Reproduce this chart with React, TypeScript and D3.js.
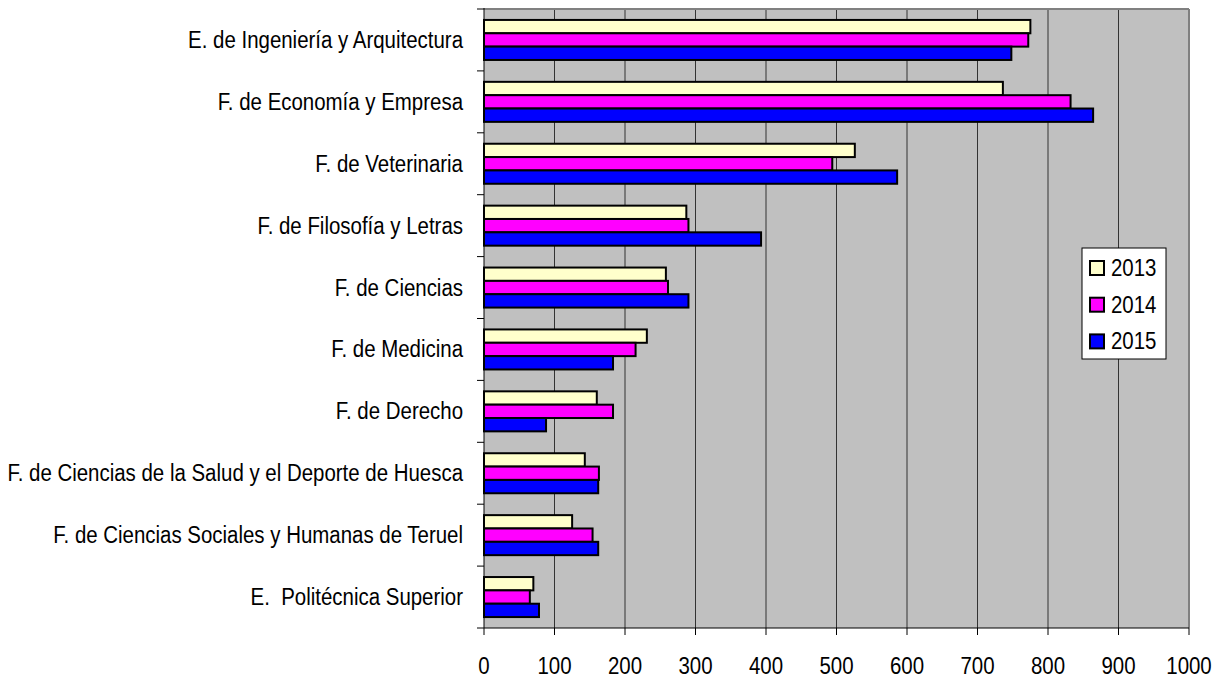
import React from "react";
import * as d3 from "d3";

const categories = [
  "E. de Ingeniería y Arquitectura",
  "F. de Economía y Empresa",
  "F. de Veterinaria",
  "F. de Filosofía y Letras",
  "F. de Ciencias",
  "F. de Medicina",
  "F. de Derecho",
  "F. de Ciencias de la Salud y el Deporte de Huesca",
  "F. de Ciencias Sociales y Humanas de Teruel",
  "E.  Politécnica Superior",
];
const seriesNames = ["2013", "2014", "2015"];
const values2013 = [775, 736, 526, 287, 258, 231, 160, 143, 125, 70];
const values2014 = [772, 832, 494, 290, 261, 215, 183, 163, 154, 65];
const values2015 = [748, 864, 586, 393, 290, 183, 88, 162, 162, 78];
const seriesColors = ["#FFFFCC", "#FF00FF", "#0000FF"];
const xTicks = [0, 100, 200, 300, 400, 500, 600, 700, 800, 900, 1000];

const W = 1220;
const H = 678;
const PL = 484;
const PR = 1189;
const PT = 9;
const PB = 628;
const FONT = "Arial, 'Liberation Sans', sans-serif";
const FS = 23.5;
const SX = 0.87;

export default function App() {
  const allValues = [values2013, values2014, values2015];
  const x = d3.scaleLinear().domain([0, 1000]).range([PL, PR]);
  const y0 = d3.scaleBand<string>().domain(categories).range([PT, PB]).padding(0);
  const y1 = d3
    .scaleBand<string>()
    .domain(seriesNames)
    .range([0, y0.bandwidth()])
    .paddingInner(0)
    .paddingOuter(0.82);

  const boundaries = d3.range(categories.length + 1).map((i) => PT + i * y0.step());

  return (
    <div style={{ position: "absolute", left: 0, top: 0 }}>
      <svg width={W} height={H} style={{ display: "block", background: "#fff" }}>
        <rect x={PL} y={PT} width={PR - PL} height={PB - PT} fill="#C0C0C0" />
        {xTicks.slice(1, -1).map((t) => (
          <line key={"g" + t} x1={x(t)} x2={x(t)} y1={PT} y2={PB} stroke="#333" strokeWidth={1} />
        ))}
        <line x1={PL} x2={PR} y1={PT} y2={PT} stroke="#808080" strokeWidth={2} />
        <line x1={PR} x2={PR} y1={PT} y2={PB} stroke="#808080" strokeWidth={2} />
        {categories.map((c, ci) => (
          <g key={c}>
            {seriesNames.map((s, si) => {
              const v = allValues[si][ci];
              const yy = (y0(c) as number) + (y1(s) as number);
              return (
                <rect
                  key={s}
                  x={x(0)}
                  y={yy}
                  width={x(v) - x(0)}
                  height={y1.bandwidth()}
                  fill={seriesColors[si]}
                  stroke="#000"
                  strokeWidth={2}
                />
              );
            })}
          </g>
        ))}
        <line x1={PL} x2={PL} y1={PT - 1} y2={PB} stroke="#000" strokeWidth={1} />
        <line x1={PL} x2={PR} y1={PB} y2={PB} stroke="#000" strokeWidth={1} />
        {boundaries.map((b, i) => (
          <line key={"yt" + i} x1={PL - 7} x2={PL} y1={b} y2={b} stroke="#000" strokeWidth={1} />
        ))}
        {xTicks.map((t) => (
          <line key={"xt" + t} x1={x(t)} x2={x(t)} y1={PB} y2={PB + 7} stroke="#000" strokeWidth={1} />
        ))}
        {categories.map((c) => (
          <text
            key={"l" + c}
            transform={`translate(463,${(y0(c) as number) + y0.bandwidth() / 2 + 8}) scale(${SX},1)`}
            textAnchor="end"
            fontFamily={FONT}
            fontSize={FS}
            fill="#000"
            style={{ whiteSpace: "pre" }}
          >
            {c}
          </text>
        ))}
        {xTicks.map((t) => (
          <text
            key={"xl" + t}
            transform={`translate(${x(t)},674) scale(${SX},1)`}
            textAnchor="middle"
            fontFamily={FONT}
            fontSize={FS}
            fill="#000"
          >
            {t}
          </text>
        ))}
        <g>
          <rect x={1082} y={248} width={84} height={111} fill="#fff" stroke="#000" strokeWidth={1} />
          {seriesNames.map((s, i) => (
            <g key={"lg" + s}>
              <rect
                x={1090}
                y={261 + i * 36.7}
                width={14}
                height={14}
                fill={seriesColors[i]}
                stroke="#000"
                strokeWidth={2}
              />
              <text
                transform={`translate(1111,${276 + i * 36.7}) scale(${SX},1)`}
                fontFamily={FONT}
                fontSize={FS}
                fill="#000"
              >
                {s}
              </text>
            </g>
          ))}
        </g>
      </svg>
    </div>
  );
}
